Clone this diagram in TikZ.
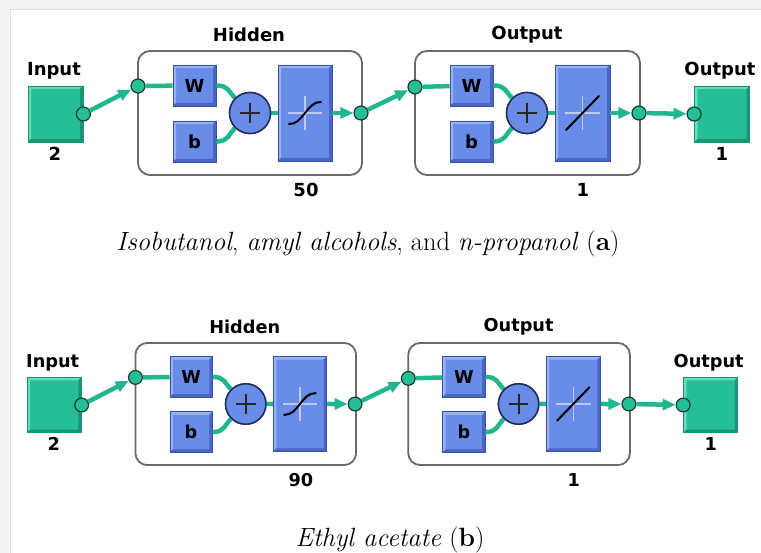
\documentclass[tikz,border=0pt]{standalone}
\usepackage{fontspec}
\setsansfont{DejaVu Sans}
\usetikzlibrary{arrows.meta}
\definecolor{bggrey}{RGB}{243,243,243}
\definecolor{edgegrey}{RGB}{222,222,222}
\definecolor{gface}{RGB}{38,190,150}
\definecolor{glight}{RGB}{105,218,185}
\definecolor{gdark}{RGB}{22,150,115}
\definecolor{gline}{RGB}{32,182,142}
\definecolor{bface}{RGB}{105,140,232}
\definecolor{blight}{RGB}{150,178,245}
\definecolor{bdark}{RGB}{72,102,200}
\definecolor{boutline}{RGB}{60,80,160}
\definecolor{portedge}{RGB}{25,60,50}
\definecolor{sumedge}{RGB}{35,45,90}
\definecolor{layeredge}{RGB}{105,105,105}
\newcommand\nnlabelfont{\sffamily\bfseries\fontsize{18}{21}\selectfont}
\tikzset{
  bevel/.style n args={2}{path picture={
    \fill[#1] (path picture bounding box.north west) -- (path picture bounding box.north east)
      -- ([shift={(-3pt,-3pt)}]path picture bounding box.north east)
      -- ([shift={(3pt,-3pt)}]path picture bounding box.north west)
      -- ([shift={(3pt,3pt)}]path picture bounding box.south west)
      -- (path picture bounding box.south west) -- cycle;
    \fill[#2] (path picture bounding box.south east) -- (path picture bounding box.north east)
      -- ([shift={(-3pt,-3pt)}]path picture bounding box.north east)
      -- ([shift={(-3pt,3pt)}]path picture bounding box.south east)
      -- ([shift={(3pt,3pt)}]path picture bounding box.south west)
      -- (path picture bounding box.south west) -- cycle;
  }},
  greenbox/.style={draw=gdark, line width=0.8pt, fill=gface, minimum width=55pt,
    minimum height=56pt, inner sep=0pt, bevel={glight}{gdark}},
  bluebox/.style={draw=boutline, line width=0.8pt, fill=bface, inner sep=0pt,
    bevel={blight}{bdark}, font=\nnlabelfont},
  layerbox/.style={draw=layeredge, line width=1.8pt, rounded corners=12pt, fill=white},
  lbl/.style={font=\nnlabelfont, inner sep=0pt},
  conn/.style={draw=gline, line width=4.5pt},
  arr/.style={-{Triangle[length=13pt,width=11pt]}},
  port/.style={circle, draw=portedge, line width=1.2pt, fill=gface, minimum size=14pt, inner sep=0pt},
  sumnode/.style={circle, draw=sumedge, line width=1.5pt, fill=bface, minimum size=41pt, inner sep=0pt},
  crossline/.style={draw=white, opacity=0.55, line width=1.2pt},
  tfline/.style={draw=black, line width=2pt, line cap=round},
  caption/.style={font=\fontsize{26.4}{30}\selectfont, inner sep=0pt},
  pics/nnet/.style={code={
    % layer frames
    \node[layerbox, minimum width=224pt, minimum height=124pt] (L1) at (250,113) {};
    \node[layerbox, minimum width=225pt, minimum height=124pt] (L2) at (527.5,113) {};
    \node[lbl] (L1lab) at (249,35) {Hidden};
    \node[lbl] (L1num) at (306,190) {#1};
    \node[lbl] (L2lab) at (527,35) {Output};
    \node[lbl] (L2num) at (583,190) {1};
    % input and output blocks
    \node[greenbox] (In) at (55.5,114) {};
    \node[lbl] (Inlab) at (54,71) {Input};
    \node[lbl] (Innum) at (55,154) {2};
    \node[greenbox] (Out) at (722,114) {};
    \node[lbl] (Outlab) at (720,71) {Output};
    \node[lbl] (Outnum) at (722,154) {1};
    % hidden layer parts
    \node[bluebox, minimum width=43pt, minimum height=41pt] (W1) at (194.5,85.5) {W};
    \node[bluebox, minimum width=43pt, minimum height=41pt] (B1) at (194.5,141.5) {b};
    \node[bluebox, minimum width=54pt, minimum height=96pt] (T1) at (305,113) {};
    \node[sumnode] (S1) at (250,113) {};
    \draw[line width=2pt, black!85] (240,113) -- (260,113) (250,103) -- (250,123);
    \draw[crossline] (288,113) -- (322,113) (305,96) -- (305,130);
    \draw[tfline] (289,124) .. controls (303,125) and (307,101) .. (321,102);
    % output layer parts
    \node[bluebox, minimum width=43pt, minimum height=41pt] (W2) at (471.5,85.5) {W};
    \node[bluebox, minimum width=43pt, minimum height=41pt] (B2) at (471.5,141.5) {b};
    \node[bluebox, minimum width=55pt, minimum height=96pt] (T2) at (582.5,113) {};
    \node[sumnode] (S2) at (527,113) {};
    \draw[line width=2pt, black!85] (517,113) -- (537,113) (527,103) -- (527,123);
    \draw[crossline] (565,113) -- (600,113) (582.5,96) -- (582.5,130);
    \draw[tfline] (566,130) -- (599,96);
    % ports
    \node[port] (InP) at (In.east) {};
    \node[port] (H1in) at (138,86) {};
    \node[port] (H1out) at (361,113) {};
    \node[port] (O1in) at (415,87) {};
    \node[port] (O1out) at (639,113) {};
    \node[port] (OutP) at (Out.west) {};
    % connectors
    \draw[conn,arr] (InP) -- (H1in);
    \draw[conn] (H1in) -- (W1);
    \draw[conn] (W1.east) .. controls +(12,0) and +(-7,-7) .. (S1.135);
    \draw[conn] (B1.east) .. controls +(12,0) and +(-7,7) .. (S1.225);
    \draw[conn] (S1) -- (T1);
    \draw[conn,arr] (T1) -- (H1out);
    \draw[conn,arr] (H1out) -- (O1in);
    \draw[conn] (O1in) -- (W2);
    \draw[conn] (W2.east) .. controls +(12,0) and +(-7,-7) .. (S2.135);
    \draw[conn] (B2.east) .. controls +(12,0) and +(-7,7) .. (S2.225);
    \draw[conn] (S2) -- (T2);
    \draw[conn,arr] (T2) -- (O1out);
    \draw[conn,arr] (O1out) -- (OutP);
    % redraw sum nodes over curve ends
    \node[sumnode] (S1top) at (S1) {};
    \draw[line width=2pt, black!85] (240,113) -- (260,113) (250,103) -- (250,123);
    \node[sumnode] (S2top) at (S2) {};
    \draw[line width=2pt, black!85] (517,113) -- (537,113) (527,103) -- (527,123);
  }}
}
\begin{document}
\begin{tikzpicture}[x=1pt,y=-1pt]
  \useasboundingbox (0,0) rectangle (761,553);
  \fill[bggrey] (0,0) rectangle (761,553);
  \fill[white] (10,10) rectangle (761,553);
  \draw[edgegrey, line width=1pt] (10,553) -- (10,10) -- (761,10);
  \pic (a-) at (0,0) {nnet=50};
  \pic[scale=0.985, transform shape] (b-) at (-0.5,292.7) {nnet=90};
  \node[caption] (capA) at (368,244) {\textit{Isobutanol}, \textit{amyl alcohols}, and \textit{n-propanol} (\textbf{a})};
  \node[caption] (capB) at (390,540) {\textit{Ethyl acetate} (\textbf{b})};
\end{tikzpicture}
\end{document}
